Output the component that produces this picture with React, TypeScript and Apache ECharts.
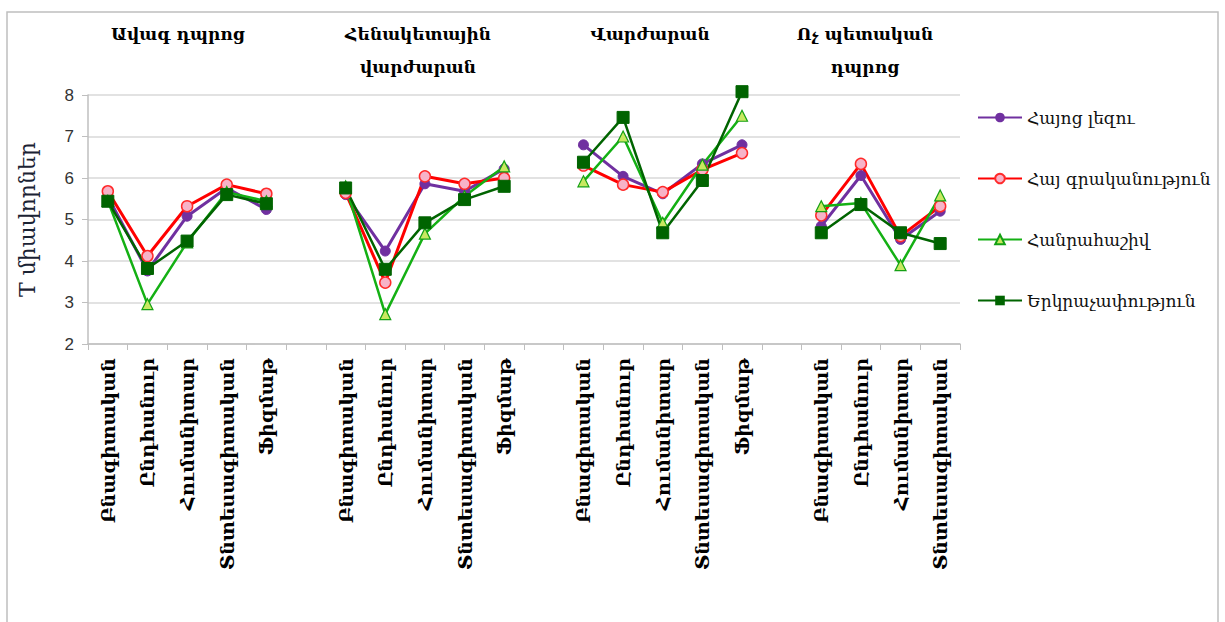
import React, { useEffect, useRef } from "react";
import * as echarts from "echarts";

const groupTitles = ["Ավագ դպրոց", "Հենակետային\nվարժարան", "Վարժարան", "Ոչ պետական\nդպրոց"];
const groupCats1 = ["Բնագիտական", "Ընդհանուր", "Հումանիտար", "Տնտեսագիտական", "Ֆիզմաթ"];
const groupCats2 = ["Բնագիտական", "Ընդհանուր", "Հումանիտար", "Տնտեսագիտական", "Ֆիզմաթ"];
const groupCats3 = ["Բնագիտական", "Ընդհանուր", "Հումանիտար", "Տնտեսագիտական", "Ֆիզմաթ"];
const groupCats4 = ["Բնագիտական", "Ընդհանուր", "Հումանիտար", "Տնտեսագիտական"];

const seriesNames = ["Հայոց լեզու", "Հայ գրականություն", "Հանրահաշիվ", "Երկրաչափություն"];

// values per group for each series
const armenian1 = [5.55, 3.76, 5.08, 5.76, 5.24];
const armenian2 = [5.6, 4.24, 5.86, 5.68, 6.22];
const armenian3 = [6.8, 6.04, 5.62, 6.34, 6.8];
const armenian4 = [4.84, 6.06, 4.52, 5.2];

const literature1 = [5.68, 4.12, 5.32, 5.84, 5.62];
const literature2 = [5.64, 3.48, 6.04, 5.86, 6.0];
const literature3 = [6.3, 5.84, 5.66, 6.2, 6.6];
const literature4 = [5.1, 6.34, 4.6, 5.32];

const algebra1 = [5.45, 2.96, 4.45, 5.66, 5.44];
const algebra2 = [5.8, 2.72, 4.66, 5.56, 6.28];
const algebra3 = [5.92, 7.0, 4.92, 6.32, 7.5];
const algebra4 = [5.32, 5.4, 3.9, 5.58];

const geometry1 = [5.44, 3.82, 4.48, 5.6, 5.38];
const geometry2 = [5.76, 3.8, 4.92, 5.48, 5.8];
const geometry3 = [6.38, 7.46, 4.68, 5.94, 8.08];
const geometry4 = [4.68, 5.36, 4.68, 4.42];

const yTicks = { min: 2, max: 8, interval: 1 };

function joinGroups<T>(groups: T[][], blank: T): T[] {
  const out: T[] = [];
  groups.forEach((g, i) => {
    if (i > 0) out.push(blank);
    out.push(...g);
  });
  return out;
}

export default function App() {
  const ref = useRef<HTMLDivElement>(null);
  useEffect(() => {
    if (!ref.current) return;
    const chart = echarts.init(ref.current, null, { renderer: "svg" });
    const categories = joinGroups<string>([groupCats1, groupCats2, groupCats3, groupCats4], "");
    const armenian = joinGroups<number | null>([armenian1, armenian2, armenian3, armenian4], null);
    const literature = joinGroups<number | null>([literature1, literature2, literature3, literature4], null);
    const algebra = joinGroups<number | null>([algebra1, algebra2, algebra3, algebra4], null);
    const geometry = joinGroups<number | null>([geometry1, geometry2, geometry3, geometry4], null);

    const font = "DejaVu Serif";
    const titleX = [178, 418, 650, 865];

    chart.setOption({
      animation: false,
      backgroundColor: "#ffffff",
      grid: { left: 88, right: 265, top: 95, bottom: 278 },
      legend: {
        orient: "vertical",
        left: 972,
        top: 104,
        itemWidth: 44,
        itemHeight: 12,
        itemGap: 44,
        textStyle: { fontFamily: font, fontSize: 17, color: "#111" },
        data: seriesNames,
      },
      graphic: [
        {
          type: "rect",
          shape: { x: 7, y: 12, width: 1211, height: 620 },
          style: { fill: "none", stroke: "#bfbfbf", lineWidth: 1.5 },
          silent: true,
        },
        ...groupTitles.map((t, i) => ({
          type: "text",
          x: titleX[i],
          y: 17,
          style: {
            text: t,
            fontFamily: font,
            fontWeight: "bold",
            fontSize: 17,
            lineHeight: 33,
            fill: "#000",
            align: "center",
            verticalAlign: "top",
          },
        })),
      ],
      xAxis: {
        type: "category",
        data: categories,
        boundaryGap: true,
        axisLine: { show: true, lineStyle: { color: "#bfbfbf", width: 1.5 } },
        axisTick: { show: true, interval: 0, length: 6, lineStyle: { color: "#bfbfbf" } },
        axisLabel: {
          interval: 0,
          rotate: 90,
          margin: 14,
          fontFamily: font,
          fontWeight: "bold",
          fontSize: 19,
          color: "#000",
        },
        splitLine: { show: false },
      },
      yAxis: {
        type: "value",
        min: yTicks.min,
        max: yTicks.max,
        interval: yTicks.interval,
        name: "T միավորներ",
        nameLocation: "middle",
        nameGap: 50,
        nameRotate: 90,
        nameTextStyle: { fontFamily: font, fontSize: 22, color: "#1a2233" },
        axisLine: { show: true, lineStyle: { color: "#bfbfbf", width: 1.5 } },
        axisTick: { show: true, length: 6, lineStyle: { color: "#bfbfbf" } },
        axisLabel: { fontSize: 17, color: "#333", margin: 14, fontFamily: "Liberation Sans" },
        splitLine: { show: true, lineStyle: { color: "#d9d9d9", width: 1.5 } },
      },
      series: [
        {
          name: seriesNames[0],
          type: "line",
          data: armenian,
          clip: false,
          symbol: "circle",
          symbolSize: 10,
          lineStyle: { color: "#7030a0", width: 3 },
          itemStyle: { color: "#7030a0", borderColor: "#7030a0" },
        },
        {
          name: seriesNames[1],
          type: "line",
          data: literature,
          clip: false,
          symbol: "circle",
          symbolSize: 11,
          lineStyle: { color: "#ff0000", width: 3 },
          itemStyle: { color: "#f7b3c8", borderColor: "#ff2a2a", borderWidth: 1.5 },
        },
        {
          name: seriesNames[2],
          type: "line",
          data: algebra,
          clip: false,
          symbol: "triangle",
          symbolSize: 11,
          lineStyle: { color: "#14b014", width: 2.5 },
          itemStyle: { color: "#c8e860", borderColor: "#14a014", borderWidth: 1.2 },
        },
        {
          name: seriesNames[3],
          type: "line",
          data: geometry,
          clip: false,
          symbol: "rect",
          symbolSize: 12,
          lineStyle: { color: "#006400", width: 2.5 },
          itemStyle: { color: "#006400", borderColor: "#006400" },
        },
      ],
    });
    return () => chart.dispose();
  }, []);
  return (
    <div
      ref={ref}
      style={{ position: "absolute", left: 0, top: 0, width: 1225, height: 622 }}
    />
  );
}
